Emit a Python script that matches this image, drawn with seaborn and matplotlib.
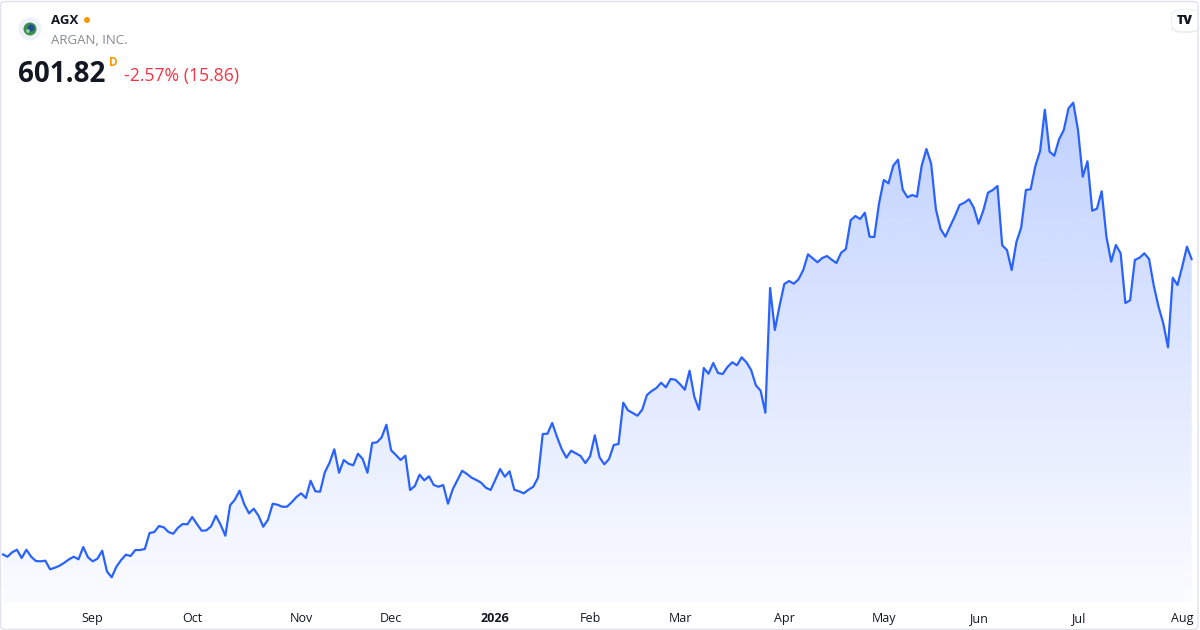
import numpy as np
import pandas as pd
import matplotlib
matplotlib.use("Agg")
import matplotlib.pyplot as plt
import seaborn as sns
from matplotlib.patches import Circle, FancyBboxPatch
from matplotlib.colors import to_rgb
from matplotlib.transforms import IdentityTransform

# ---------------- data ----------------
ticker = "AGX"
company = "ARGAN, INC."
last_price = "601.82"
change_text = "-2.57% (15.86)"
start_date = "2025-08-05"
market_holidays = ["2025-09-01", "2025-11-27", "2025-12-25", "2026-01-01",
                   "2026-01-19", "2026-02-16", "2026-04-03", "2026-05-25",
                   "2026-06-19", "2026-07-03"]
month_labels = ["Sep", "Oct", "Nov", "Dec", "2026", "Feb", "Mar", "Apr",
                "May", "Jun", "Jul", "Aug"]
close = [
    230.50, 227.48, 233.02, 236.29, 225.85, 236.29, 227.48, 222.07, 221.69, 222.45,
    211.62, 213.64, 216.15, 219.93, 224.21, 227.48, 224.21, 239.69, 226.73, 221.69,
    224.96, 235.03, 209.10, 201.55, 214.89, 223.33, 230.00, 228.36, 235.91, 235.91,
    237.17, 257.31, 258.57, 266.12, 264.49, 258.57, 256.43, 263.98, 268.64, 268.26,
    277.45, 268.64, 260.21, 260.71, 265.75, 279.09, 267.76, 253.91, 292.18, 299.23,
    310.56, 293.44, 282.11, 287.90, 279.09, 265.24, 274.05, 294.19, 292.93, 290.42,
    290.42, 295.95, 302.63, 307.28, 301.37, 323.14, 309.80, 309.30, 333.72, 345.80,
    362.67, 333.21, 349.20, 344.54, 342.53, 357.13, 350.46, 333.21, 370.60, 371.48,
    377.77, 393.63, 361.41, 355.49, 349.20, 354.61, 311.44, 316.47, 330.70, 323.65,
    328.68, 317.73, 315.59, 317.73, 294.19, 312.32, 324.02, 335.73, 331.58, 326.92,
    324.02, 320.63, 314.33, 311.44, 324.40, 337.87, 328.18, 334.98, 311.82, 309.80,
    307.28, 311.82, 315.59, 326.92, 381.92, 382.30, 395.77, 378.53, 363.04, 352.09,
    360.90, 357.63, 354.23, 345.42, 353.85, 380.29, 352.60, 343.79, 350.46, 368.08,
    369.34, 421.32, 411.75, 408.36, 404.96, 412.51, 431.01, 436.05, 439.82, 446.50,
    440.71, 451.15, 450.27, 444.48, 437.68, 461.60, 428.87, 412.51, 465.00, 457.82,
    471.29, 458.70, 457.45, 466.26, 472.17, 468.40, 478.47, 472.17, 462.48, 443.22,
    436.43, 408.73, 565.69, 512.83, 543.42, 570.73, 574.51, 571.11, 576.65, 588.35,
    608.11, 603.08, 598.04, 603.46, 605.97, 601.32, 597.16, 610.13, 614.78, 650.91,
    656.32, 652.54, 660.47, 630.27, 629.89, 672.31, 701.63, 697.48, 719.63, 727.19,
    689.42, 679.86, 682.75, 680.61, 719.63, 740.65, 722.15, 664.75, 639.96, 630.27,
    643.36, 655.94, 670.17, 673.06, 677.34, 666.77, 646.63, 662.99, 685.65, 689.05,
    694.08, 619.44, 613.52, 588.35, 623.59, 641.59, 689.05, 689.93, 719.26, 738.14,
    790.12, 737.26, 732.22, 752.86, 764.57, 791.88, 798.93, 764.57, 705.79, 725.17,
    662.99, 665.51, 687.41, 630.27, 598.80, 619.82, 609.37, 546.81, 550.21, 600.94,
    603.83, 609.37, 602.20, 568.59, 542.16, 521.26, 491.05, 578.66, 569.47, 592.50,
    617.68, 601.82,
]

dates = pd.bdate_range(start_date, periods=len(close), freq="C", holidays=market_holidays)
df = pd.DataFrame({"bar": np.arange(len(close)), "date": dates, "close": close})

# month tick positions (first bar of each full month)
first_bars = df.groupby(df["date"].dt.to_period("M"))["bar"].min().tolist()[1:]

# ---------------- style ----------------
sns.set_style("white")
plt.rcParams["font.family"] = ["Open Sans", "DejaVu Sans"]

W, H = 1200, 630
fig = plt.figure(figsize=(W / 100, H / 100), dpi=100)
fig.patch.set_facecolor("white")

ax_bottom_px = 602
ax_right_px = 1197
ax = fig.add_axes([0, (H - ax_bottom_px) / H, ax_right_px / W, ax_bottom_px / H])
ax.set_facecolor("white")

LINE = "#2962FF"
sns.lineplot(data=df, x="bar", y="close", color=LINE, lw=1.6, ax=ax, zorder=3)

# limits (bar spacing ~4.74 px, first bar at ~2.7 px)
bar_px = 4.737
x0 = -2.7 / bar_px
x1 = (ax_right_px - 2.7) / bar_px
dmin, dmax = min(close), max(close)
rng = dmax - dmin
ylo = dmin - 0.052 * rng
yhi = dmax + 0.2164 * rng

# gradient area under the line
fill = ax.fill_between(df["bar"], df["close"], ylo, facecolor="none", edgecolor="none")
grad = np.zeros((256, 1, 4))
grad[..., :3] = to_rgb(LINE)
grad[:, 0, 3] = np.linspace(0.02, 0.29, 256)
im = ax.imshow(grad, extent=[x0, x1, ylo, dmax], origin="lower", aspect="auto",
               zorder=2, interpolation="bilinear")
im.set_clip_path(fill.get_paths()[0], transform=ax.transData)

ax.set_xlim(x0, x1)
ax.set_ylim(ylo, yhi)
ax.set_xlabel("")
ax.set_ylabel("")
ax.set_yticks([])
ax.set_xticks(first_bars)
ax.set_xticklabels(month_labels[:len(first_bars)])
ax.tick_params(axis="x", length=0, pad=7, labelsize=9, labelcolor="#131722")
for lab in ax.get_xticklabels():
    if lab.get_text() == "2026":
        lab.set_fontweight("bold")
for s in ax.spines.values():
    s.set_visible(False)


def fx(px):
    return px / W


def fy(py):
    return 1 - py / H


def pcircle(cx, cy, r, color, z):
    # circle in pixel units (top-left origin)
    c = Circle((cx, H - cy), r, transform=IdentityTransform(),
               facecolor=color, edgecolor="none", zorder=z)
    fig.patches.append(c)


# ---------------- header ----------------
pcircle(30, 29, 11.5, "#eef1f8", 5)
pcircle(30, 29, 6.5, "#3f8f4c", 6)
pcircle(31, 28, 3.6, "#1f4f8f", 7)
pcircle(28, 31, 1.8, "#9bd0a5", 7)

fig.text(fx(51), fy(20), ticker, fontsize=9.5, fontweight="bold", color="#131722",
         va="center", ha="left", zorder=8)
pcircle(87, 20, 3, "#ff9800", 8)
fig.text(fx(51), fy(40), company, fontsize=9.5, color="#868993",
         va="center", ha="left", zorder=8)
fig.text(fx(18), fy(82), last_price, fontsize=20, fontweight="bold", color="#131722",
         va="baseline", ha="left", zorder=8)
fig.text(fx(108.5), fy(66), "D", fontsize=8.5, fontweight="bold", color="#ff9800",
         va="baseline", ha="left", zorder=8)
fig.text(fx(123.5), fy(81), change_text, fontsize=12.7, color="#F23645",
         va="baseline", ha="left", zorder=8)

# TradingView badge
fig.patches.append(FancyBboxPatch((fx(1171), fy(33)), 29 / W, 24 / H,
                                  boxstyle="round,pad=0,rounding_size=0.01",
                                  transform=fig.transFigure, facecolor="#e6e8ee",
                                  edgecolor="none", zorder=8, alpha=0.7))
fig.patches.append(FancyBboxPatch((fx(1172), fy(31)), 28 / W, 21 / H,
                                  boxstyle="round,pad=0,rounding_size=0.01",
                                  transform=fig.transFigure, facecolor="white",
                                  edgecolor="none", zorder=9))
fig.text(fx(1185), fy(21), "TV", fontsize=9, fontweight="heavy", color="#131722",
         va="center", ha="center", zorder=10)

# outer border
fig.patches.append(FancyBboxPatch((0.5 / W, 0.5 / H), 1197.5 / W, 628 / H,
                                  boxstyle="round,pad=0,rounding_size=0.005",
                                  transform=fig.transFigure, facecolor="none",
                                  edgecolor="#e0e3eb", lw=1, zorder=11))

fig.savefig("out.png", dpi=100, facecolor="white")
